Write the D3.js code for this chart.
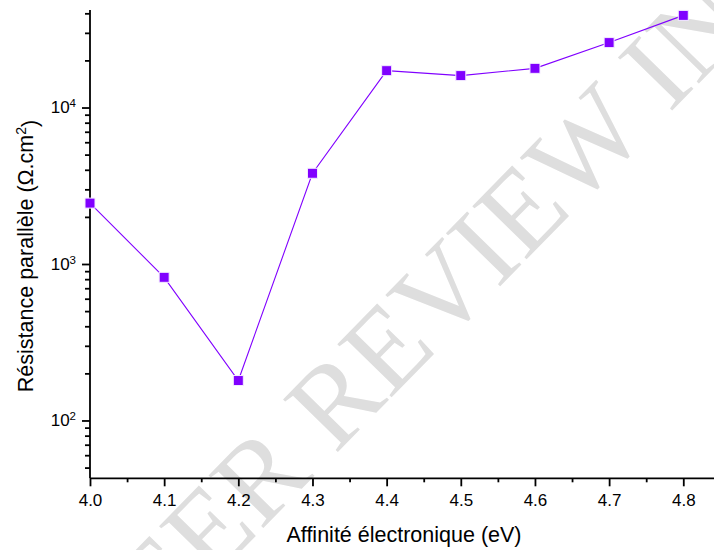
<!DOCTYPE html>
<html>
<head>
<meta charset="utf-8">
<script src="https://cdn.jsdelivr.net/npm/d3@7"></script>
<style>
  html, body { margin: 0; padding: 0; background: #fff; overflow: hidden; }
  svg { display: block; }
  text { font-family: "Liberation Sans", Arial, sans-serif; fill: #000; }
</style>
</head>
<body>
<svg id="chart" width="714" height="550"></svg>
<script>
// Electron affinity (eV) vs. parallel (shunt) resistance (Ω·cm²)
const affinity   = [4.0, 4.1, 4.2, 4.3, 4.4, 4.5, 4.6, 4.7, 4.8];
const resistance = [2450, 822, 180, 3800, 17200, 16000, 17800, 26000, 38800];

const xTicks      = [4.0, 4.1, 4.2, 4.3, 4.4, 4.5, 4.6, 4.7, 4.8];
const xMinorTicks = [4.05, 4.15, 4.25, 4.35, 4.45, 4.55, 4.65, 4.75];
const yTicks      = [100, 1000, 10000];
const yMinorTicks = [50, 60, 70, 80, 90, 200, 300, 400, 500, 600, 700, 800, 900,
                     2000, 3000, 4000, 5000, 6000, 7000, 8000, 9000, 20000, 30000, 40000];

const xDomain = [4.0, 4.85];
const yDomain = [42.7, 42000];

const svg = d3.select("#chart");
const plotLeft = 90, plotBottom = 478.3, plotTop = 10;
const plotRight = plotLeft + (xDomain[1] - xDomain[0]) / 0.1 * 74.16;

const x = d3.scaleLinear().domain(xDomain).range([plotLeft, plotRight]);
const y = d3.scaleLog().domain(yDomain).range([plotBottom, plotTop]);

// Diagonal watermark behind the data
const wmFont = "'Liberation Serif', 'Times New Roman', serif";
const wm = svg.append("g")
  .attr("transform", "translate(335,455) rotate(-45.6)");
wm.append("text").attr("x", 0).attr("y", 0).attr("text-anchor", "start")
  .style("font-family", wmFont).style("font-size", "116px").style("fill", "#dedede")
  .text("REVIEW IN PROGRESS");
wm.append("text").attr("x", -29).attr("y", 0).attr("text-anchor", "end")
  .style("font-family", wmFont).style("font-size", "116px").style("fill", "#dedede")
  .text("PEER");

// X axis
const gx = svg.append("g").attr("transform", `translate(0,${plotBottom})`);
gx.call(d3.axisBottom(x).tickValues(xTicks).tickSize(8).tickPadding(8)
  .tickFormat(d3.format(".1f")));
gx.selectAll(".tick text").style("font-size", "17px").style("fill", "#000");
gx.append("g").call(d3.axisBottom(x).tickValues(xMinorTicks).tickSize(4).tickFormat(""))
  .select(".domain").remove();
gx.select(".domain").attr("d", `M${plotLeft},0H${plotRight}`);
gx.selectAll("path, line").attr("stroke", "#000").attr("stroke-width", 1.8);

// Y axis (log), decade labels as 10 with a superscript exponent
const gy = svg.append("g").attr("transform", `translate(${plotLeft},0)`);
gy.call(d3.axisLeft(y).tickValues(yTicks).tickSize(8).tickPadding(6).tickFormat(""));
gy.selectAll(".tick text").each(function(d) {
  const t = d3.select(this).style("font-size", "17px").style("fill", "#000");
  t.append("tspan").text("10");
  t.append("tspan").attr("dy", "-0.55em").style("font-size", "11.5px")
    .text(String(Math.round(Math.log10(d))));
});
gy.append("g").call(d3.axisLeft(y).tickValues(yMinorTicks).tickSize(5).tickFormat(""))
  .select(".domain").remove();
gy.select(".domain").attr("d", `M0,${plotTop}V${plotBottom}`);
gy.selectAll("path, line").attr("stroke", "#000").attr("stroke-width", 1.8);

// Axis titles
svg.append("text")
  .attr("x", 404).attr("y", 542)
  .attr("text-anchor", "middle")
  .style("font-size", "21.5px")
  .text("Affinité électronique (eV)");

const yt = svg.append("text")
  .attr("transform", "translate(33,256) rotate(-90)")
  .attr("text-anchor", "middle")
  .style("font-size", "21.5px");
yt.append("tspan").text("Résistance parallèle (Ω.cm");
yt.append("tspan").attr("dy", "-0.5em").style("font-size", "14px").text("2");
yt.append("tspan").attr("dy", "0.5em").text(")");

// Data line and square markers
const pts = affinity.map((a, i) => [a, resistance[i]]);
svg.append("path")
  .datum(pts)
  .attr("fill", "none")
  .attr("stroke", "#8000ff")
  .attr("stroke-width", 1.1)
  .attr("d", d3.line().x(d => x(d[0])).y(d => y(d[1])));

const ms = 10;
svg.append("g").selectAll("rect")
  .data(pts)
  .join("rect")
  .attr("x", d => x(d[0]) - ms / 2)
  .attr("y", d => y(d[1]) - ms / 2)
  .attr("width", ms)
  .attr("height", ms)
  .attr("fill", "#8000ff")
  .attr("stroke", "#f4ecff")
  .attr("stroke-width", 1);
</script>
</body>
</html>
